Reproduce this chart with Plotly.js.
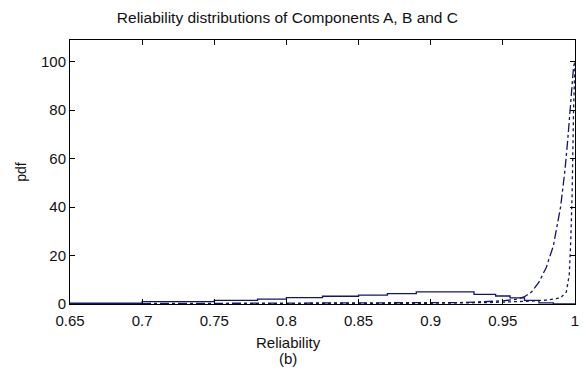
<!DOCTYPE html>
<html>
<head>
<meta charset="utf-8">
<script src="https://cdn.plot.ly/plotly-3.0.1.min.js"></script>
<style>html,body{margin:0;padding:0;background:#fff;}#chart{width:583px;height:376px;}</style>
</head>
<body>
<div id="chart"></div>
<script>
// Component A (solid, stair histogram)
const relA = [0.65,0.70,0.75,0.78,0.80,0.825,0.85,0.87,0.89,0.93,0.945,0.955,0.965,0.975,0.985,1.0];
const pdfA = [0.3,1.0,1.5,2.0,2.6,3.2,3.7,4.3,5.0,4.0,3.3,2.5,1.5,0.5,0.05,0.0];
// Component B (dash-dot)
const relB = [0.65,0.70,0.75,0.80,0.85,0.88,0.90,0.92,0.93,0.94,0.95,0.96,0.965,0.97,0.975,0.98,0.985,0.99,0.993,0.995,0.997,0.998,0.999,1.0];
const pdfB = [0.1,0.2,0.2,0.3,0.3,0.4,0.5,0.6,0.8,1.0,1.3,2.0,3.0,5.0,9.0,15,24,40,55,68,82,90,98,100];
// Component C (dotted)
const relC = [0.65,0.80,0.90,0.94,0.96,0.97,0.98,0.99,0.994,0.996,0.997,0.998,0.999,1.0];
const pdfC = [0.0,0.1,0.3,0.6,0.9,1.2,1.6,2.5,5,12,25,45,80,100];
// Axis ticks
const xTicks = [0.65,0.7,0.75,0.8,0.85,0.9,0.95,1];
const xTickText = ["0.65","0.7","0.75","0.8","0.85","0.9","0.95","1"];
const yTicks = [0,20,40,60,80,100];

const navy = "#14146e";
const traces = [
  {x: relA, y: pdfA, mode: "lines", line: {color: navy, width: 1.3, shape: "hv"}, name: "A"},
  {x: relB, y: pdfB, mode: "lines", line: {color: navy, width: 1.3, dash: "dashdot"}, name: "B"},
  {x: relC, y: pdfC, mode: "lines", line: {color: navy, width: 1.3, dash: "dot"}, name: "C"}
];
const font = {family: "Liberation Sans, Arial, sans-serif", color: "#111", size: 15};
const layout = {
  width: 583, height: 376,
  margin: {l: 70, r: 8, t: 40, b: 72},
  paper_bgcolor: "#fff", plot_bgcolor: "#fff",
  showlegend: false,
  font: font,
  title: {text: "Reliability distributions of Components A, B and C", font: {family: font.family, size: 15.5, color: "#111"}, xref: "container", x: 0.493, xanchor: "center", yref: "container", y: 0.952, yanchor: "middle"},
  xaxis: {range: [0.65, 1], tickvals: xTicks, ticktext: xTickText, ticks: "inside", ticklen: 5, tickcolor: "#000",
          showline: true, linecolor: "#000", linewidth: 1, mirror: "ticks", showgrid: false, zeroline: false,
          tickfont: {size: 15}, ticklabelstandoff: 3},
  yaxis: {range: [0, 109], tickvals: yTicks, ticks: "inside", ticklen: 5, tickcolor: "#000",
          showline: true, linecolor: "#000", linewidth: 1, mirror: "ticks", showgrid: false, zeroline: false,
          tickfont: {size: 15}, title: {text: "pdf", font: {size: 14}, standoff: 11}},
  annotations: [
    {text: "Reliability", xref: "paper", yref: "paper", x: 0.4317, y: -0.145, xanchor: "center", yanchor: "middle", showarrow: false, font: {size: 15}},
    {text: "(b)", xref: "paper", yref: "paper", x: 0.4317, y: -0.205, xanchor: "center", yanchor: "middle", showarrow: false, font: {size: 15}}
  ]
};
Plotly.newPlot("chart", traces, layout, {displayModeBar: false, staticPlot: true});
</script>
</body>
</html>
